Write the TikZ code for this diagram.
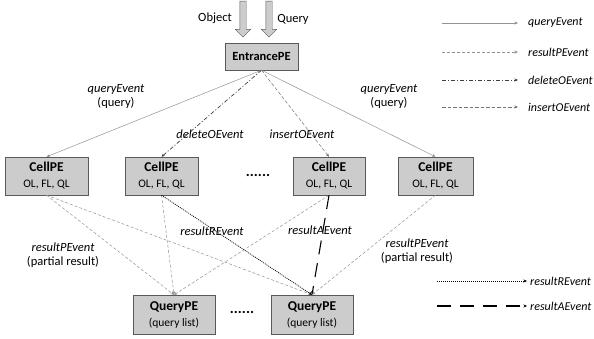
\documentclass[tikz,border=0pt]{standalone}
\usepackage{fontspec}
\setmainfont{Carlito}
\usetikzlibrary{arrows.meta,shapes.arrows}

\begin{document}
\begin{tikzpicture}
[x=1pt,y=-1pt,
  font=\fontsize{12.5}{14}\selectfont,
  boxDecorate/.style={draw=gray!70!black,fill=gray!40,inner sep=0pt,align=center},
  tipDecorate/.style={-{Stealth[length=3.5pt,width=3pt]}},
  queryLine/.style={tipDecorate,draw=gray!85,line width=0.5pt},
  resultPLine/.style={tipDecorate,draw=gray!85,line width=0.5pt,dash pattern=on 3pt off 2pt},
  deleteLine/.style={tipDecorate,draw=black!75,line width=0.7pt,dash pattern=on 4pt off 2pt on 1pt off 2pt},
  insertLine/.style={tipDecorate,draw=gray!90!black,line width=0.5pt,dash pattern=on 3.5pt off 2pt},
  resultRLine/.style={tipDecorate,draw=black,line width=0.7pt,dash pattern=on 1pt off 1pt},
  resultALine/.style={tipDecorate,draw=black,line width=1.1pt,dash pattern=on 14pt off 9pt},
  labelDecorate/.style={align=center,inner sep=1pt},
  legendDecorate/.style={anchor=west,inner sep=1pt,font=\fontsize{12}{14}\selectfont\itshape},
  inputDecorate/.style={single arrow,draw=gray!70!black,fill=gray!40,rotate=-90,
    minimum height=36pt,inner sep=3pt,single arrow head extend=4.5pt}]
\useasboundingbox (0,0) rectangle (594,338);
%% input arrows
\node (objArrow) at (243,17.5) [inputDecorate] {};
\node (queryArrow) at (269,17.5) [inputDecorate] {};
\node (objLabel) at (215,18) {Object};
\node (queryLabel) at (293,19) {Query};
%% processing elements
\node (entrance) at (261.5,56.5) [boxDecorate,minimum width=73pt,minimum height=27pt] {\textbf{EntrancePE}};
\foreach \nodename/\x/\w in {
  cellA/46.5/83, cellB/161.5/73, cellC/329/72, cellD/435.5/75}
{
  \node (\nodename) at (\x,176) [boxDecorate,minimum width=\w pt,minimum height=38pt]
    {{\fontsize{13.5}{15}\selectfont\textbf{CellPE}}\\[2pt]{\fontsize{11.5}{13}\selectfont OL, FL, QL}};
}
\foreach \nodename/\x in {queryA/174, queryB/312}
{
  \node (\nodename) at (\x,314.5) [boxDecorate,minimum width=82pt,minimum height=39pt]
    {{\fontsize{13.5}{15}\selectfont\textbf{QueryPE}}\\[2pt]{\fontsize{11.5}{13}\selectfont (query list)}};
}
\node (dotsCell) at (258,175) {\fontsize{15}{15}\selectfont\textbf{......}};
\node (dotsQuery) at (242,312) {\fontsize{15}{15}\selectfont\textbf{......}};
%% edges or lines
\foreach \startnode/\endnode/\kind in {
  entrance/cellA/queryLine, entrance/cellB/deleteLine,
  entrance/cellC/insertLine, entrance/cellD/queryLine,
  cellA/queryA/resultPLine, cellA/queryB/resultPLine,
  cellB/queryA/resultPLine, cellB/queryB/resultRLine,
  cellC/queryA/resultPLine, cellC/queryB/resultALine,
  cellD/queryB/resultPLine}
{
  \draw[\kind] (\startnode.south) -- (\endnode.north);
}
%% edge labels
\node (queryLblA) at (116,96) [labelDecorate] {\textit{queryEvent}\\(query)};
\node (queryLblB) at (389,96) [labelDecorate] {\textit{queryEvent}\\(query)};
\node (deleteLbl) at (210,134) [labelDecorate] {\textit{deleteOEvent}};
\node (insertLbl) at (302,134) [labelDecorate] {\textit{insertOEvent}};
\node (resultPLblA) at (63,255) [labelDecorate] {\textit{resultPEvent}\\(partial result)};
\node (resultPLblB) at (417,251) [labelDecorate] {\textit{resultPEvent}\\(partial result)};
\node (resultRLbl) at (212,231) [labelDecorate] {\textit{resultREvent}};
\node (resultALbl) at (320,230) [labelDecorate] {\textit{resultAEvent}};
%% legend
\foreach \name/\xa/\xb/\xl/\y/\kind/\lbl in {
  legQ/442/518/527/23/queryLine/queryEvent,
  legP/442/518/527/52/resultPLine/resultPEvent,
  legD/442/518/527/80/deleteLine/deleteOEvent,
  legI/442/518/527/107/insertLine/insertOEvent,
  legR/437/527/529/281/resultRLine/resultREvent,
  legA/437/527/529/306/resultALine/resultAEvent}
{
  \coordinate (\name-s) at (\xa,\y);
  \coordinate (\name-e) at (\xb,\y);
  \node (\name) at (\xl,\y) [legendDecorate] {\lbl};
  \draw[\kind] (\name-s) -- (\name-e);
}
\end{tikzpicture}
\end{document}
